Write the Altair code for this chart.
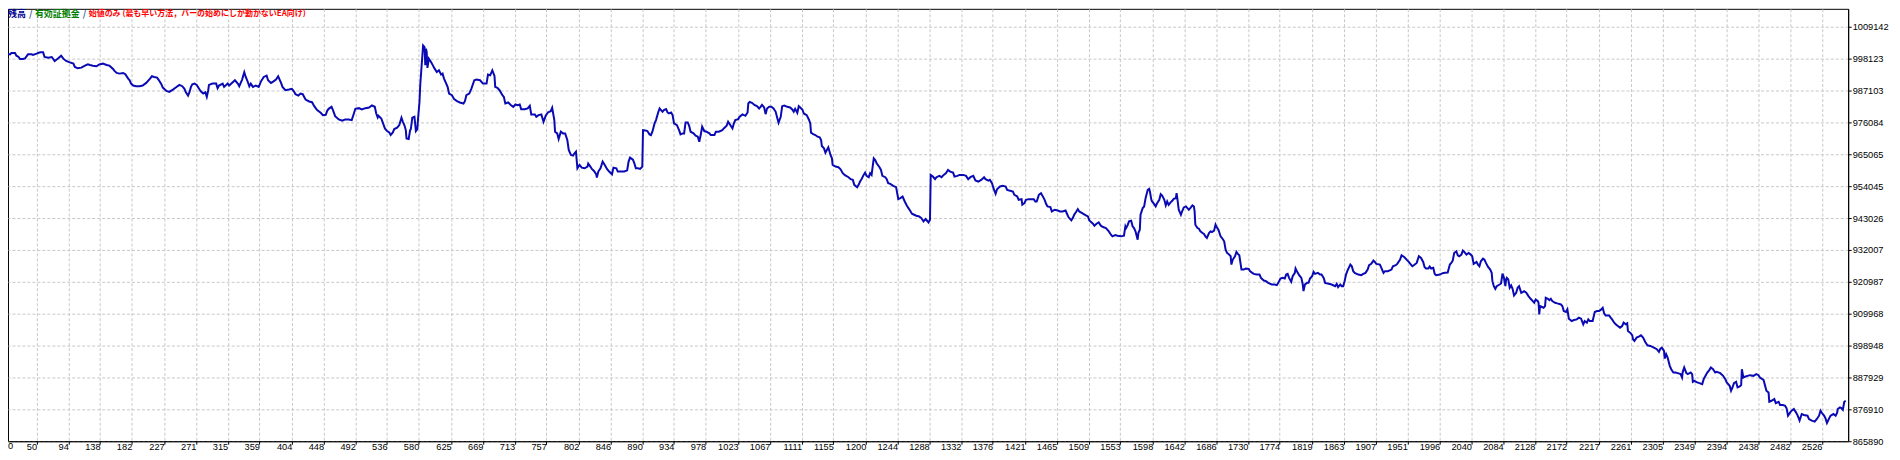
import altair as alt
import pandas as pd

trades = [6, 8, 13, 15, 20, 22, 25, 27, 31, 34, 36, 38, 43, 45, 50, 52, 55, 59, 61, 66, 71, 73, 75, 80, 84, 87, 91, 96, 101, 103, 107, 112, 117, 121, 124, 128, 133, 137, 142, 147, 151, 156, 158, 161, 165, 170, 173, 177, 179, 181, 184, 188, 193, 197, 202, 207, 210, 213, 217, 219, 223, 225, 230, 234, 239, 243, 248, 252, 255, 257, 260, 262, 264, 266, 269, 272, 276, 278, 281, 284, 286, 288, 289, 294, 299, 301, 303, 308, 310, 315, 317, 322, 325, 329, 331, 335, 338, 340, 342, 345, 347, 350, 354, 358, 361, 365, 369, 371, 375, 378, 382, 385, 389, 391, 395, 400, 404, 407, 409, 413, 416, 419, 423, 428, 432, 435, 439, 444, 447, 451, 453, 455, 459, 461, 464, 469, 474, 478, 483, 487, 490, 492, 497, 501, 506, 511, 515, 519, 521, 523,
          524, 528, 530, 533, 536, 539, 541, 544, 546, 550, 553, 556, 558, 560, 562, 563, 566, 568, 569, 571, 574, 576, 578, 579, 581, 582, 584, 586, 588, 589, 590, 591, 592, 594, 597, 599, 602, 605, 608, 611, 613, 615, 617, 620, 622, 626, 629, 633, 637, 642, 644, 646, 650, 653, 657, 660, 665, 669, 674, 676, 679, 682, 685, 686, 689, 692, 696, 698, 700, 704, 708, 711, 714, 717, 720, 722, 727, 731, 734, 736, 741, 743, 746, 750, 753, 756, 759, 763, 765, 768, 769, 772, 774, 777, 780, 783, 786, 788, 791, 794, 796, 798, 800, 803, 806, 810, 814, 815, 818, 820, 823, 826, 827, 829, 832, 835, 838, 841, 844, 848, 850, 854, 856, 861, 865, 869, 871, 873, 877, 879, 881, 884, 887, 890, 891, 894, 897, 900, 902, 904, 907, 909, 912, 914, 916, 918, 920, 923, 925, 927, 930, 932, 934, 938, 941, 943, 946, 948, 950, 953, 955, 957, 961, 964, 967, 969, 971, 973, 976, 979, 983, 985, 990, 992, 996, 1001, 1003, 1007, 1009, 1012, 1015, 1017, 1019, 1023, 1025, 1029, 1033, 1036,
          1037, 1039, 1042, 1046, 1049, 1052, 1054, 1056, 1059, 1061, 1063, 1066, 1069, 1072, 1075, 1077, 1079, 1082, 1084, 1087, 1091, 1095, 1098, 1100, 1102, 1105, 1107, 1109, 1112, 1114, 1118, 1121, 1123, 1124, 1127, 1130, 1133, 1136, 1138, 1139, 1142, 1144, 1146, 1148, 1151, 1153, 1154, 1158, 1162, 1165, 1168, 1171, 1176, 1179, 1182, 1184, 1188, 1190, 1192, 1194, 1197, 1199, 1201, 1204, 1206, 1208, 1211, 1213, 1215, 1219, 1221, 1223, 1227, 1229, 1231, 1234, 1238, 1242, 1245, 1248, 1251, 1254, 1257, 1260, 1264, 1267, 1270, 1274, 1277, 1280, 1283, 1287, 1289, 1290, 1293, 1296, 1298, 1302, 1305, 1308, 1311, 1314, 1317, 1321, 1323, 1327, 1330, 1335, 1339, 1342, 1345, 1349, 1352, 1356, 1360, 1364, 1366, 1370, 1372, 1375, 1377, 1380, 1382, 1386, 1390, 1394, 1396, 1399, 1404, 1406, 1410, 1412, 1416, 1417, 1420, 1422, 1426, 1429, 1433, 1435, 1437, 1440, 1443, 1446, 1448, 1450, 1452, 1456, 1458, 1462, 1466, 1469, 1473, 1477, 1479, 1481, 1485, 1487, 1489, 1492, 1494, 1496, 1500, 1504, 1508, 1510, 1515, 1517, 1520, 1523, 1526, 1529, 1533, 1537, 1540, 1542, 1546, 1549, 1554, 1558, 1560,
          1561, 1563, 1565, 1568, 1570, 1572, 1574, 1577, 1578, 1580, 1581, 1584, 1586, 1588, 1591, 1593, 1594, 1596, 1597, 1600, 1602, 1604, 1607, 1609, 1611, 1614, 1616, 1618, 1620, 1623, 1625, 1627, 1630, 1631, 1632, 1634, 1637, 1639, 1641, 1644, 1646, 1648, 1650, 1653, 1655, 1656, 1657, 1660, 1662, 1664, 1667, 1669, 1671, 1673, 1676, 1678, 1680, 1683, 1685, 1686, 1689, 1692, 1694, 1697, 1699, 1701, 1703, 1706, 1707, 1709, 1712, 1714, 1716, 1718, 1721, 1724, 1727, 1731, 1733, 1736, 1738, 1742, 1746, 1748, 1752, 1755, 1758, 1761, 1763, 1767, 1770, 1772, 1775, 1778, 1781, 1783, 1785, 1787, 1790, 1792, 1795, 1796, 1799, 1801, 1804, 1806, 1807, 1809, 1812, 1814, 1816, 1819, 1821, 1823, 1827, 1830, 1832, 1835, 1837, 1842, 1846, 1851, 1853, 1855, 1858, 1860, 1862, 1864, 1866, 1868, 1872, 1874, 1876, 1878, 1883, 1887, 1890, 1893, 1896, 1898, 1901, 1904, 1906, 1908, 1913, 1915, 1918, 1920, 1924, 1929, 1931, 1935, 1937, 1941, 1943, 1947, 1950, 1953, 1956, 1958, 1960, 1964, 1967, 1970, 1973, 1975, 1977, 1980, 1982, 1984, 1987, 1989, 1991, 1996, 2000, 2003, 2007, 2010, 2012, 2014, 2016, 2019, 2021, 2023, 2026, 2028, 2030, 2033, 2036, 2039, 2041, 2043, 2047, 2049, 2051, 2053, 2056, 2058,
          2060, 2063, 2066, 2068, 2069, 2071, 2073, 2075, 2079, 2081, 2083, 2085, 2087, 2088, 2089, 2091, 2093, 2095, 2097, 2099, 2102, 2104, 2106, 2109, 2111, 2113, 2116, 2119, 2122, 2125, 2127, 2129, 2132, 2133, 2134, 2135, 2137, 2140, 2142, 2143, 2146, 2148, 2150, 2152, 2156, 2159, 2164, 2166, 2168, 2171, 2173, 2175, 2179, 2182, 2186, 2189, 2192, 2195, 2197, 2200, 2202, 2204, 2208, 2211, 2214, 2217, 2220, 2222, 2224, 2226, 2231, 2233, 2235, 2238, 2240, 2243, 2246, 2249, 2251, 2254, 2256, 2257, 2261, 2263, 2264, 2266, 2269, 2272, 2275, 2278, 2281, 2284, 2288, 2293, 2297, 2300, 2302, 2304, 2307, 2308, 2310, 2312, 2315, 2317, 2320, 2323, 2326, 2330, 2332, 2333, 2335, 2338, 2340, 2344, 2346, 2347, 2349, 2353, 2356, 2360, 2362, 2364, 2367, 2370, 2372, 2375, 2378, 2380, 2385, 2389, 2392, 2394, 2398, 2400, 2402, 2404, 2407, 2409, 2412, 2414, 2415, 2417, 2420, 2423, 2426, 2431, 2435, 2438, 2440, 2445, 2447, 2449, 2452, 2453, 2456, 2460, 2462, 2466, 2468, 2472, 2475, 2477, 2479, 2482, 2484, 2487, 2490, 2492, 2495, 2498, 2501, 2506, 2508, 2512, 2516, 2519, 2522, 2524, 2527, 2529, 2531, 2533, 2536, 2538, 2542, 2545, 2547, 2548, 2551, 2553, 2555, 2557, 2559]

balance = [999490, 999840, 999600, 1000060, 1000060, 999150, 998690, 998000, 998000, 998230, 998920, 999600, 999600, 999380, 999840, 1000060, 1000290, 1000290, 998690, 998460, 998690, 998000, 997310, 998230, 999150, 998110, 997310, 996850, 996390, 995240, 994780, 995010, 995700, 996160, 995930, 995700, 995470, 996160, 996390, 995930, 995700, 994560, 993870, 993180, 992950, 993180, 992720, 991230, 990650, 989500, 988820, 988590, 988590, 988820, 989730, 991110, 992030, 991800, 991570, 990880, 989280, 988130, 986980, 986630, 987440, 988130, 989050, 988590, 987670, 986520, 985370, 986520, 988360, 989280, 989500, 989050, 987440, 986750, 986060, 986520, 984910, 987210, 989050, 989500, 989500, 987900, 988820, 989500, 988360, 989500, 988820, 989960, 990650, 989500, 988590, 990880, 993410, 991800, 990650, 988590, 989500, 988360, 988820, 988360, 990190, 991800, 992260, 990650, 989730, 990190, 990880, 992030, 989730, 988360, 987210, 987440, 987670, 986750, 985830, 985370, 986060, 985830, 983990, 983310, 983080, 981700, 980320, 979400, 978600, 978710, 980090, 980780, 981470, 980320, 978260, 977110, 976650, 977110, 977110, 976880, 979170, 980780, 981010, 980550, 981010, 981240, 981930, 981470, 979170, 977800,
           978370, 977450, 976070, 974010, 973090, 972630, 971710, 972630, 973780, 974240, 975160, 977680, 976300, 975160, 973430, 970560, 970340, 973430, 973780, 977680, 978030, 973090, 973780, 977450, 983190, 988930, 995820, 1002710, 1002130, 995820, 1001560, 1000410, 994900, 998110, 996970, 996050, 994670, 993520, 994100, 992600, 992950, 991230, 990080, 988360, 986060, 985490, 984110, 983420, 982960, 982620, 983420, 985490, 986060, 987780, 990650, 990880, 990650, 989500, 989500, 992600, 992370, 994100, 992140, 988360, 988010, 987210, 985490, 984910, 982620, 982960, 982040, 981470, 982270, 982040, 982270, 980670, 980670, 980900, 981810, 978830, 978830, 978030, 978600, 978830, 976300, 978370, 979520, 979980, 981130, 976880, 972860, 972290, 970340, 972860, 972290, 972290, 969990, 966550, 964830, 964600, 965400, 965970, 960230, 961380, 960460, 960230, 960810, 961840, 960810, 960000, 959320, 958170, 957020, 959090, 960230, 962530, 961380, 960000, 959090, 958170, 960460, 960230, 959090, 959090, 959090, 959550, 962530, 963910, 963220, 961960, 960230, 960230, 960000, 960810, 973430, 973320, 973090, 971940, 971710, 972860, 975730, 976880, 979520, 980900, 980320, 979750, 980320, 980670, 979520, 979170, 979520, 978600, 975730, 975160, 973430, 971940, 972290, 972290, 976070, 976070, 974930, 972860, 972290, 971480, 971140, 969420, 971710, 974580, 973090, 972860, 972290, 971710, 971710, 972860, 972860, 973430, 974010, 974930, 976300, 975160, 974010, 975730, 976880, 977220, 978030, 978830, 978370, 979520,
           982620, 983190, 982850, 982040, 981700, 980900, 981470, 982160, 981240, 978940, 980900, 981470, 981470, 980900, 979750, 977800, 975960, 978030, 981700, 981930, 981470, 981240, 980550, 979750, 980780, 979400, 981700, 981240, 980550, 979170, 978600, 977110, 975730, 972520, 972060, 971710, 971140, 970910, 969990, 967930, 967120, 965630, 966550, 967470, 964830, 963680, 961380, 960810, 960580, 959890, 958510, 957820, 957140, 956450, 956220, 954500, 953690, 954500, 955640, 956450, 957940, 958740, 957590, 957140, 958510, 957940, 963680, 963100, 961960, 960580, 959660, 957590, 957140, 956450, 955070, 954840, 954150, 953690, 949560, 949900, 950480, 948760, 947260, 946120, 944510, 944160, 943820, 943590, 943020, 941870, 942670, 941520, 942440, 957940, 957360, 956450, 957140, 957590, 957140, 957940, 958510, 959660, 959090, 958740, 957360, 957590, 957940, 957940, 957590, 956450, 957140, 957590, 955990, 955640, 956220, 957140, 956450, 955990, 956220, 955070, 953350, 951400, 953000, 953920, 954150, 953920, 952770, 952540, 952200, 951050, 950480, 949330, 949560, 947610, 948180, 949330, 949560, 949560, 949560, 948760, 948760, 951050, 951630, 950250, 949330, 947950, 947030, 946800, 945310, 945890, 945660, 945310, 945310, 945660, 944510, 943360, 942210, 943020, 944160, 945310, 946120, 945310, 944740, 944160, 943590, 942210, 941070, 940380, 941070, 941520, 940380, 939920, 939570, 938430, 937280, 936700, 937160, 936930, 936700, 936930, 940150,
           939570, 940490, 941870, 942100, 940150, 939570, 938420, 935560, 937850, 939000, 944160, 946460, 947030, 949900, 952770, 953120, 952200, 949330, 948760, 947840, 947030, 948180, 949330, 951280, 950820, 949330, 947380, 948760, 947610, 948530, 948990, 949670, 949900, 951630, 949900, 945890, 944160, 945540, 946690, 947030, 946460, 945890, 946460, 947380, 947030, 945310, 940720, 939570, 939340, 938420, 937850, 937510, 936700, 936130, 937850, 938420, 938200, 938650, 940720, 940150, 939000, 936700, 936130, 934980, 932110, 930960, 930620, 929820, 926950, 928670, 929820, 931310, 930620, 930160, 925220, 925220, 925570, 925450, 924650, 924080, 923730, 923500, 923500, 922350, 921440, 921210, 920630, 920290, 920060, 920060, 919830, 920630, 922120, 922350, 922120, 923500, 923730, 922350, 920980, 922930, 924080, 925570, 924080, 923270, 922350, 920060, 917760, 920060, 920630, 920630, 922120, 922930, 924420, 923730, 924080, 923500, 923500, 922350, 920630, 920290, 920060, 919480, 920290, 919140, 920060, 919480, 919480, 921210, 923500, 924880, 926950, 926370, 924650, 924080, 923500, 923270, 923730, 924080, 925220, 926720, 927180, 928320, 927860, 927180, 926950, 925800, 924080, 924650, 924650, 925220, 926370, 926720, 927180, 928670, 930160, 929470, 928670, 927860, 926950, 926370, 926720, 927520, 929820, 929240, 927860, 926030, 925570, 925570, 926260, 925570, 925800, 923730, 923270, 923500, 923960, 924080, 924190, 926950, 927520, 928320, 930960, 931540, 930160, 929820, 930390, 931770, 931310, 930390, 930960, 930390, 929820, 927180, 927860, 926950, 926370, 928090, 929010, 928670,
           927520, 926140, 925220, 924080, 921210, 919480, 918570, 919480, 920060, 920400, 923850, 922350, 919480, 921780, 922350, 921780, 918910, 919710, 918570, 916270, 917190, 918910, 919480, 917190, 917420, 917760, 917190, 916040, 915120, 914320, 913750, 914890, 914320, 913750, 909730, 912600, 912370, 912020, 912600, 915470, 915120, 914660, 915120, 914320, 913750, 913520, 913170, 912600, 910880, 910530, 911450, 908240, 907430, 907780, 908010, 908580, 908240, 906280, 907430, 906860, 908010, 907430, 907430, 910530, 910880, 910880, 911450, 912020, 910070, 909380, 909380, 908580, 908010, 906860, 906280, 905710, 905140, 905710, 906860, 906280, 906630, 903990, 903180, 902500, 901120, 900540, 901690, 902040, 902500, 901690, 900200, 899050, 898820, 898250, 897680, 896760, 897900, 898250, 897100, 894460, 895950, 894810, 891940, 890790, 889640, 889640, 889410, 889070, 887920, 889870, 891360, 889410, 889070, 889640, 889070, 886430, 886770, 886200, 885970, 885620, 887340, 888260, 889640, 890560, 891360, 890790, 889640, 889870, 889410, 888490, 887340, 886200, 885050, 883330, 884470, 885970, 886430, 884470, 884820, 885280, 890790, 887920, 888260, 888490, 888720, 888490, 889070, 888720, 887920, 887110, 885280, 883330, 882750, 879540, 879880, 880460, 879080, 879540, 878390, 878390, 878160, 877240, 874720, 875870, 876440, 877010, 875870, 874950, 873000, 875290, 874950, 874720, 873570, 873000, 872650, 873570, 874720, 876440, 875290, 874720, 873800, 872190, 873800, 874720, 875290, 874720, 875640, 877010, 877590, 877360, 876780, 879540, 879880]

x_ticks = [50, 94, 138, 182, 227, 271, 315, 359, 404, 448, 492, 536, 580, 625, 669, 713, 757, 802, 846, 890,
           934, 978, 1023, 1067, 1111, 1155, 1200, 1244, 1288, 1332, 1376, 1421, 1465, 1509, 1553, 1598, 1642,
           1686, 1730, 1774, 1819, 1863, 1907, 1951, 1996, 2040, 2084, 2128, 2172, 2217, 2261, 2305, 2349, 2394,
           2438, 2482, 2526]
y_ticks = [865890, 876910, 887929, 898948, 909968, 920987, 932007, 943026, 954045, 965065, 976084, 987103,
           998123, 1009142]
first_x_label = "0"

legend_parts = ["残高", "/", "有効証拠金", "/", "始値のみ (最も早い方法，バーの始めにしか動かないEA向け)"]
legend_colors = ["#000090", "#4060a0", "#008000", "#4060a0", "#ff0000"]
legend_px = [0, 21, 27, 75, 81]
legend_sizes = [9, 9, 9, 9, 8]

df = pd.DataFrame({"trade": trades, "balance": balance, "i": list(range(len(trades)))})

AX_FONT = "Liberation Sans"
AX_SIZE = 9.3

x_axis = alt.Axis(values=x_ticks, format="d", title=None, orient="bottom",
                  labelAlign="right", labelBaseline="top", labelPadding=-2,
                  tickSize=3, tickColor="black", domainColor="black", labelColor="black",
                  labelFont=AX_FONT, labelFontSize=AX_SIZE, labelOverlap=False, labelFlush=False,
                  grid=True, gridDash=[3, 2], gridColor="#c8c8c8", gridWidth=1)
y_axis = alt.Axis(values=y_ticks, format="d", title=None, orient="right",
                  labelAlign="left", labelBaseline="middle", labelPadding=1,
                  tickSize=3, tickColor="black", domainColor="black", labelColor="black",
                  labelFont=AX_FONT, labelFontSize=AX_SIZE, labelOverlap=False, labelFlush=False,
                  grid=True, gridDash=[3, 2], gridColor="#c8c8c8", gridWidth=1)

line = alt.Chart(df).mark_line(color="#0a0ab4", strokeWidth=2, clip=True).encode(
    x=alt.X("trade:Q", scale=alt.Scale(domain=[10.3, 2562.4], nice=False, zero=False), axis=x_axis),
    y=alt.Y("balance:Q", scale=alt.Scale(domain=[865890, 1015342], nice=False, zero=False), axis=y_axis),
    order=alt.Order("i:Q"),
)

layers = [line]
one = pd.DataFrame({"k": [0]})
for part, col, px, fs in zip(legend_parts, legend_colors, legend_px, legend_sizes):
    layers.append(
        alt.Chart(one).mark_text(align="left", baseline="middle", font="Noto Sans CJK JP",
                                 fontSize=fs, fontWeight="bold", color=col).encode(
            x=alt.value(px), y=alt.value(5), text=alt.value(part))
    )
layers.append(
    alt.Chart(one).mark_text(align="left", baseline="top", font=AX_FONT, fontSize=AX_SIZE,
                             color="black").encode(
        x=alt.value(0), y=alt.value(435), text=alt.value(first_x_label))
)

chart = alt.layer(*layers).properties(
    width=1847, height=434,
    padding={"left": 0, "top": 0, "right": 44, "bottom": 10},
    autosize=alt.AutoSizeParams(type="none"),
    background="white",
).configure_view(stroke="black", strokeWidth=1)

chart.save("out.html", embed_options={"renderer": "svg", "actions": False})
